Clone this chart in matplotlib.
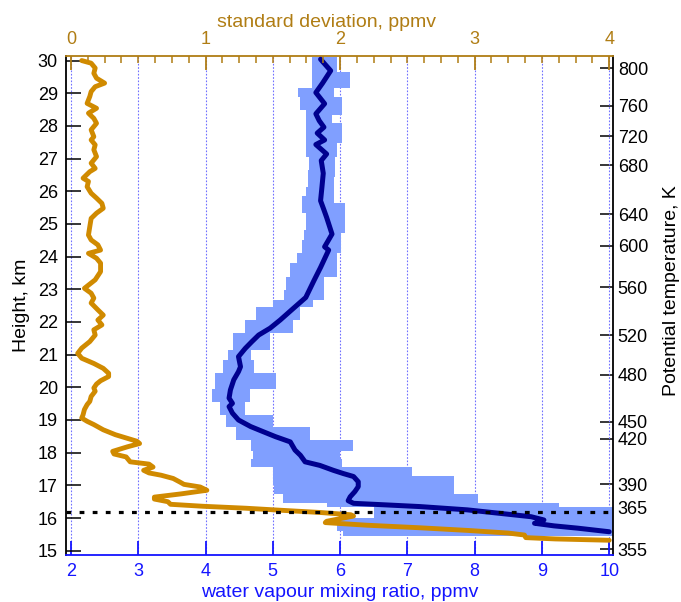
import matplotlib
matplotlib.use('Agg')
import matplotlib.pyplot as plt
from matplotlib.ticker import MultipleLocator

plt.rcParams['font.family'] = ['Liberation Sans', 'DejaVu Sans']

# ---------------- data ----------------
# mean water vapour mixing ratio profile (ppmv) vs height (km)
mean_h = [30.04, 29.69, 29.31, 29.02, 28.68, 28.37, 28.16, 27.96, 27.78, 27.57, 27.43, 27.14,
          26.94, 26.55, 26.12, 25.71, 25.43, 25.2, 24.69, 24.3, 24.2, 23.67, 23.26, 22.75,
          22.37, 22.06, 21.81, 21.6, 21.4, 21.19, 20.94, 20.63, 20.48, 20.23, 19.92, 19.67,
          19.51, 19.41, 19.21, 19.0, 18.8, 18.64, 18.49, 18.33, 18.08, 17.92, 17.72, 17.61,
          17.46, 17.36, 17.27, 17.11, 16.96, 16.81, 16.65, 16.53, 16.45, 16.40, 16.35, 16.25,
          16.14, 16.04, 15.94, 15.89, 15.84, 15.76, 15.69, 15.58]
mean_x = [5.71, 5.86, 5.74, 5.64, 5.77, 5.64, 5.69, 5.76, 5.66, 5.77, 5.64, 5.80,
          5.72, 5.75, 5.73, 5.71, 5.76, 5.80, 5.88, 5.77, 5.83, 5.71, 5.61, 5.49,
          5.28, 5.11, 4.96, 4.79, 4.69, 4.59, 4.49, 4.52, 4.49, 4.42, 4.37, 4.35,
          4.40, 4.35, 4.40, 4.49, 4.67, 4.86, 5.04, 5.26, 5.33, 5.41, 5.48, 5.70,
          5.90, 6.05, 6.20, 6.27, 6.27, 6.22, 6.15, 6.12, 6.20, 6.70, 7.19, 7.89,
          8.39, 8.84, 9.03, 8.99, 8.89, 9.18, 9.53, 10.0]

# variability envelope (ppmv), blocky layers starting at env_h
env_h = [15.46, 15.6, 15.8, 16.0, 16.35, 16.45, 16.75, 17.0, 17.3, 17.55, 17.8, 18.05,
         18.4, 18.8, 19.15, 19.55, 19.95, 20.45, 20.85, 21.15, 21.65, 22.05, 22.45, 22.67,
         22.98, 23.39, 23.8, 24.1, 24.51, 24.71, 24.82, 25.33, 25.63, 25.84, 26.14, 26.45,
         26.65, 27.06, 27.47, 28.08, 28.34, 28.49, 28.9, 29.17, 29.66, 30.1]
env_left = [6.05, 5.95, 5.93, 6.5, 5.8, 5.15, 5.02, 5.0, 5.0, 4.67, 4.71, 4.68,
            4.46, 4.31, 4.21, 4.09, 4.14, 4.26, 4.34, 4.41, 4.58, 4.75, 5.0, 5.17,
            5.20, 5.25, 5.36, 5.44, 5.46, 5.46, 5.50, 5.44, 5.44, 5.50, 5.52, 5.52,
            5.54, 5.49, 5.50, 5.50, 5.50, 5.41, 5.37, 5.59, 5.59, 5.59]
env_right = [10.05, 10.05, 10.05, 10.05, 9.25, 8.05, 7.7, 7.7, 7.07, 6.03, 6.0, 6.19,
             5.55, 5.0, 4.58, 4.66, 5.05, 4.72, 4.68, 4.96, 5.3, 5.4, 5.6, 5.76,
             5.76, 5.95, 5.95, 6.01, 6.01, 6.08, 6.08, 6.08, 5.91, 5.91, 5.91, 5.93,
             5.93, 5.96, 6.03, 5.88, 6.03, 6.03, 5.91, 6.15, 5.96, 5.96]

# standard deviation (ppmv) vs height (km)
sd_h = [30.0, 29.92, 29.77, 29.61, 29.46, 29.31, 29.2, 29.05, 28.9, 28.69, 28.54, 28.39,
        28.23, 28.08, 27.88, 27.67, 27.57, 27.42, 27.27, 27.06, 26.86, 26.7, 26.6, 26.4,
        26.3, 26.14, 25.94, 25.79, 25.63, 25.48, 25.33, 25.17, 24.92, 24.66, 24.51, 24.36,
        24.2, 24.1, 23.95, 23.8, 23.54, 23.29, 23.03, 22.88, 22.73, 22.58, 22.37, 22.21,
        22.06, 21.91, 21.76, 21.6, 21.4, 21.2, 21.04, 20.89, 20.73, 20.58, 20.43, 20.33,
        20.2, 20.1, 19.98, 19.88, 19.72, 19.57, 19.47, 19.32, 19.16, 19.06, 18.96, 18.86,
        18.7, 18.55, 18.45, 18.35, 18.28, 18.18, 18.04, 17.96, 17.87, 17.72, 17.65, 17.56,
        17.46, 17.38, 17.31, 17.21, 17.10, 17.03, 16.95, 16.85, 16.74, 16.64, 16.58, 16.50,
        16.42, 16.36, 16.30, 16.24, 16.17, 16.10, 16.06, 15.98, 15.90, 15.86, 15.78, 15.70,
        15.62, 15.54, 15.48, 15.40, 15.36, 15.32]
sd_val = [0.08, 0.15, 0.18, 0.17, 0.19, 0.25, 0.18, 0.15, 0.14, 0.12, 0.19, 0.13,
          0.17, 0.19, 0.15, 0.17, 0.15, 0.18, 0.17, 0.19, 0.15, 0.18, 0.14, 0.09,
          0.13, 0.12, 0.15, 0.19, 0.23, 0.24, 0.19, 0.15, 0.14, 0.13, 0.15, 0.20,
          0.22, 0.13, 0.19, 0.22, 0.22, 0.18, 0.10, 0.15, 0.17, 0.15, 0.20, 0.24,
          0.20, 0.23, 0.17, 0.18, 0.14, 0.08, 0.05, 0.08, 0.17, 0.24, 0.28, 0.28,
          0.22, 0.19, 0.17, 0.18, 0.15, 0.14, 0.12, 0.10, 0.09, 0.08, 0.12, 0.17,
          0.24, 0.33, 0.41, 0.49, 0.51, 0.42, 0.31, 0.32, 0.41, 0.44, 0.58, 0.61,
          0.54, 0.58, 0.67, 0.76, 0.81, 0.84, 0.96, 1.01, 0.82, 0.62, 0.62, 0.72,
          0.74, 0.98, 1.30, 1.55, 1.85, 2.08, 2.10, 2.0, 1.90, 1.89, 2.20, 2.60,
          2.95, 3.25, 3.37, 3.38, 3.60, 4.0]

# potential temperature labels (K) and the heights (km) where they sit
theta_labels = [355, 365, 390, 420, 450, 480, 520, 560, 600, 640, 680, 720, 760, 800]
theta_heights = [15.05, 16.31, 17.04, 18.42, 18.94, 20.38, 21.6, 23.06, 24.34, 25.30,
                 26.79, 27.69, 28.61, 29.77]

height_ticks = list(range(15, 31))
wv_ticks = list(range(2, 11))
sd_ticks = [0, 1, 2, 3, 4]
tropopause_km = 16.17

# ---------------- styling ----------------
GOLD = '#D08A00'
GOLD_AX = '#B07D14'
FILL = '#809FFF'
NAVY = '#00008F'
BLUE = '#1414FF'
GRID = '#7070FF'

xmin, xmax = 1.92, 10.055
ymin, ymax = 14.88, 30.14

fig = plt.figure(figsize=(6.81, 6.02), dpi=100)
ax = fig.add_axes([0.0963, 0.0787, 0.8037, 0.8283])
axr = ax.twinx()
axt = ax.twiny()
axr.set_zorder(0)
ax.set_zorder(1)
axt.set_zorder(2)
ax.patch.set_visible(False)
axt.patch.set_visible(False)
axr.patch.set_visible(True)
axr.patch.set_facecolor('white')

ax.set_xlim(xmin, xmax)
ax.set_ylim(ymin, ymax)
axr.set_ylim(ymin, ymax)
axt.set_xlim((xmin - 2) / 2, (xmax - 2) / 2)

# grid lines behind everything
for x in wv_ticks:
    ax.axvline(x, color=GRID, lw=0.8, ls=(0, (1.5, 1.5)), zorder=0.5)

# envelope
ax.fill_betweenx(env_h, env_left, env_right, step='post', color=FILL, lw=0, zorder=1)
# mean
ax.plot(mean_x, mean_h, color=NAVY, lw=3.6, solid_joinstyle='round', solid_capstyle='round', zorder=3)

# standard deviation on top axis
axt.plot(sd_val, sd_h, color=GOLD, lw=3.5, solid_joinstyle='round', solid_capstyle='round', zorder=3)
axt.axhline(tropopause_km, color='black', lw=2.3, ls=(0, (1.5, 2.6)), zorder=5)

# spines
for s in ['top', 'right', 'left', 'bottom']:
    axr.spines[s].set_visible(False)
    axt.spines[s].set_visible(False)
ax.spines['left'].set_color('black')
ax.spines['right'].set_color('black')
ax.spines['bottom'].set_color(BLUE)
ax.spines['top'].set_color(GOLD_AX)
for s in ax.spines.values():
    s.set_linewidth(1.3)

# bottom axis
ax.set_xticks(wv_ticks)
ax.tick_params(axis='x', direction='in', length=10, width=1.3, color=BLUE,
               labelcolor=BLUE, labelsize=13, pad=6, top=False)
ax.set_xlabel('water vapour mixing ratio, ppmv', color=BLUE, fontsize=14)
ax.xaxis.set_label_coords(0.5, -0.058)

# left axis
ax.set_yticks(height_ticks)
ax.tick_params(axis='y', direction='in', length=10.5, width=1.1, color='black',
               labelsize=13, pad=5.5, right=False)
ax.set_ylabel('Height, km', fontsize=14)
ax.yaxis.set_label_coords(-0.065, 0.5)

# top axis
axt.set_xticks(sd_ticks)
axt.xaxis.set_minor_locator(MultipleLocator(0.125))
axt.tick_params(axis='x', which='major', direction='in', length=10, width=1.3,
                color=GOLD_AX, labelcolor=GOLD_AX, labelsize=13, pad=5.5)
axt.tick_params(axis='x', which='minor', direction='in', length=5, width=1.1, color=GOLD_AX)
axt.set_xlabel('standard deviation, ppmv', color=GOLD_AX, fontsize=14)
axt.xaxis.set_label_coords(0.4775, 1.058)

# right axis (potential temperature)
axr.set_yticks(theta_heights)
axr.set_yticklabels([str(t) for t in theta_labels])
axr.tick_params(axis='y', direction='in', length=9.5, width=1.1, color='black',
                labelsize=13, pad=3.5)
axr.set_ylabel('Potential temperature, K', fontsize=14)
axr.yaxis.set_label_coords(1.091, 0.529)

fig.savefig('out.png', dpi=100, facecolor='white')
